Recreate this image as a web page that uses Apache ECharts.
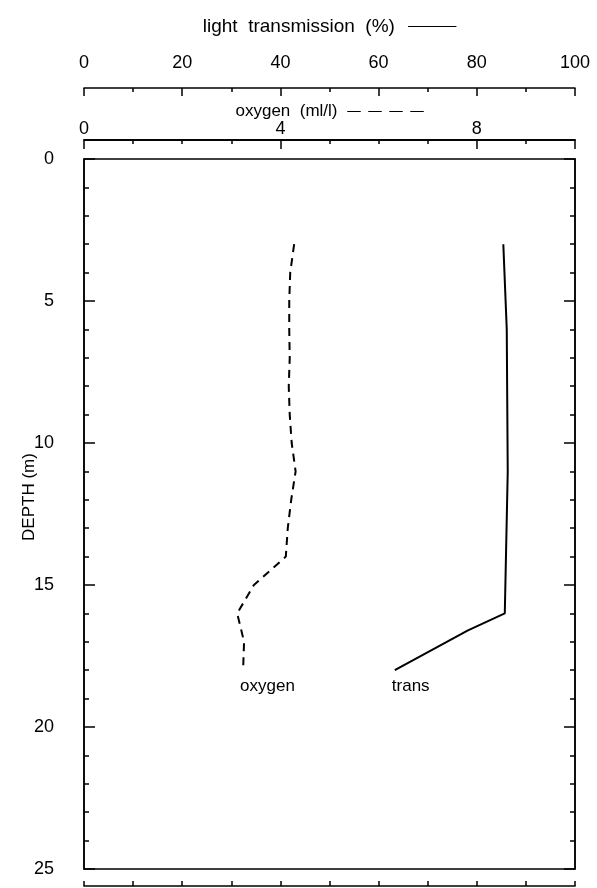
<!DOCTYPE html>
<html>
<head>
<meta charset="utf-8">
<script src="https://cdn.jsdelivr.net/npm/echarts@6/dist/echarts.min.js"></script>
<style>
html,body{margin:0;padding:0;background:#fff;}
#chart{width:597px;height:888px;}
</style>
</head>
<body>
<div id="chart"></div>
<script>
// Light transmission (%) vs depth (m)
var transDepth = [3, 6, 11, 16, 16.6, 18];
var transValue = [85.4, 86.1, 86.3, 85.7, 78.2, 63.3];
// Oxygen (ml/l) vs depth (m)
var oxyDepth = [3, 4, 5, 6, 7, 8, 9, 10, 11, 12, 13, 14, 15, 16, 17, 18];
var oxyValue = [4.28, 4.20, 4.18, 4.18, 4.19, 4.17, 4.19, 4.23, 4.31, 4.22, 4.15, 4.11, 3.46, 3.12, 3.26, 3.24];
var transTicks = [0, 20, 40, 60, 80, 100];
var oxyTickLabels = [0, 4, 8];
var depthTicks = [0, 5, 10, 15, 20, 25];

var FONT = 'Liberation Sans';
var BLACK = '#000';

function pairs(xs, ys, labelText) {
  return ys.map(function (d, i) {
    var item = { value: [xs[i], d] };
    if (i === ys.length - 1) {
      item.label = {
        show: true, formatter: labelText, position: 'bottom', distance: 8,
        align: 'left', offset: [-3, 0], color: BLACK, fontFamily: FONT, fontSize: 17
      };
    }
    return item;
  });
}

function axLine() { return { show: true, onZero: false, lineStyle: { color: BLACK, width: 1.5 } }; }
function tickStyle() { return { color: BLACK, width: 1.5 }; }

var chart = echarts.init(document.getElementById('chart'), null, {renderer: 'canvas'});
var option = {
  backgroundColor: '#fff',
  animation: false,
  grid: [
    { left: 84, right: 22, top: 159, bottom: 19, show: true, borderColor: BLACK, borderWidth: 1.5, backgroundColor: 'transparent' },
    { left: 84, right: 22, top: 88, height: 10, show: false },
    { left: 84, right: 22, top: 140, height: 0.01, show: true, borderColor: BLACK, borderWidth: 1.5, backgroundColor: 'transparent' }
  ],
  // oxygen axis baseline (drawn explicitly so it is always visible)
  graphic: [
    { type: 'line', z: 100, shape: { x1: 84, y1: 140, x2: 575, y2: 140 }, style: { stroke: BLACK, lineWidth: 1.5 }, silent: true }
  ],
  xAxis: [
    // data-mapping axes of the main plot (hidden)
    { gridIndex: 0, type: 'value', min: transTicks[0], max: transTicks[transTicks.length - 1], position: 'top', show: false },
    { gridIndex: 0, type: 'value', min: 0, max: 10, position: 'top', show: false },
    // bottom axis line below the frame
    {
      gridIndex: 0, type: 'value', min: 0, max: 10, interval: 1,
      position: 'bottom', offset: 17,
      axisLine: axLine(),
      axisTick: { show: true, inside: true, length: 5, lineStyle: tickStyle() },
      axisLabel: { show: false },
      splitLine: { show: false }
    },
    // visible light transmission axis
    {
      gridIndex: 1, type: 'value', min: transTicks[0], max: transTicks[transTicks.length - 1], interval: 20,
      position: 'top',
      axisLine: axLine(),
      axisTick: { show: true, inside: true, length: 8, lineStyle: tickStyle() },
      minorTick: { show: true, splitNumber: 2, length: 4, lineStyle: tickStyle() },
      axisLabel: { margin: 16, fontSize: 18, color: BLACK, fontFamily: FONT },
      splitLine: { show: false }, minorSplitLine: { show: false },
      name: '{t|light  transmission  (%)}    {ln|}',
      nameLocation: 'middle', nameGap: 52, nameMoveOverlap: false,
      nameTextStyle: {
        rich: {
          t: { fontSize: 19, color: BLACK, fontFamily: FONT },
          ln: { width: 48, height: 0, borderColor: BLACK, borderWidth: 1 }
        }
      }
    },
    // visible oxygen axis
    {
      gridIndex: 2, type: 'value', min: 0, max: 10, interval: 1,
      position: 'top',
      axisLine: axLine(),
      axisTick: { show: true, inside: true, length: 4, lineStyle: tickStyle() },
      axisLabel: {
        margin: 2, fontSize: 18, color: BLACK, fontFamily: FONT,
        formatter: function (v) { return oxyTickLabels.indexOf(v) >= 0 ? String(v) : ''; }
      },
      splitLine: { show: false },
      name: '{t|oxygen  (ml/l)}   {d|}{g|}{d|}{g|}{d|}{g|}{d|}',
      nameLocation: 'middle', nameGap: 20, nameMoveOverlap: false,
      nameTextStyle: {
        rich: {
          t: { fontSize: 17, color: BLACK, fontFamily: FONT },
          d: { width: 13, height: 0, borderColor: BLACK, borderWidth: 1 },
          g: { width: 8, height: 0 }
        }
      }
    },
    {
      gridIndex: 2, type: 'value', min: 0, max: 10, interval: 4,
      position: 'top',
      axisLine: { show: false, onZero: false },
      axisTick: { show: true, inside: true, length: 9, lineStyle: tickStyle() },
      axisLabel: { show: false },
      splitLine: { show: false }
    }
  ],
  yAxis: [
    {
      gridIndex: 0, type: 'value', inverse: true, min: depthTicks[0], max: depthTicks[depthTicks.length - 1], interval: 5,
      position: 'left',
      axisLine: axLine(),
      axisTick: { show: true, inside: true, length: 11, lineStyle: tickStyle() },
      minorTick: { show: true, splitNumber: 5, length: 5, lineStyle: tickStyle() },
      axisLabel: { margin: 30, fontSize: 18, color: BLACK, fontFamily: FONT },
      splitLine: { show: false },
      name: 'DEPTH (m)', nameLocation: 'middle', nameGap: 46, nameRotate: 90, nameMoveOverlap: false,
      nameTextStyle: { fontSize: 17, color: BLACK, fontFamily: FONT, padding: [0, 0, 0, 34] }
    },
    {
      gridIndex: 0, type: 'value', inverse: true, min: 0, max: 25, interval: 5,
      position: 'right',
      axisLine: axLine(),
      axisTick: { show: true, inside: true, length: 11, lineStyle: tickStyle() },
      minorTick: { show: true, splitNumber: 5, length: 5, lineStyle: tickStyle() },
      axisLabel: { show: false },
      splitLine: { show: false }
    },
    { gridIndex: 1, type: 'value', min: 0, max: 1, show: false },
    { gridIndex: 2, type: 'value', min: 0, max: 1, show: false }
  ],
  series: [
    {
      name: 'trans', type: 'line', xAxisIndex: 0, yAxisIndex: 0,
      data: pairs(transValue, transDepth, 'trans'),
      symbol: 'circle', symbolSize: 0, showSymbol: true,
      lineStyle: { color: BLACK, width: 2 }, itemStyle: { color: BLACK },
      silent: true
    },
    {
      name: 'oxygen', type: 'line', xAxisIndex: 1, yAxisIndex: 0,
      data: pairs(oxyValue, oxyDepth, 'oxygen'),
      symbol: 'circle', symbolSize: 0, showSymbol: true,
      lineStyle: { color: BLACK, width: 2, type: [8, 6] }, itemStyle: { color: BLACK },
      silent: true
    }
  ]
};
chart.setOption(option);
</script>
</body>
</html>
